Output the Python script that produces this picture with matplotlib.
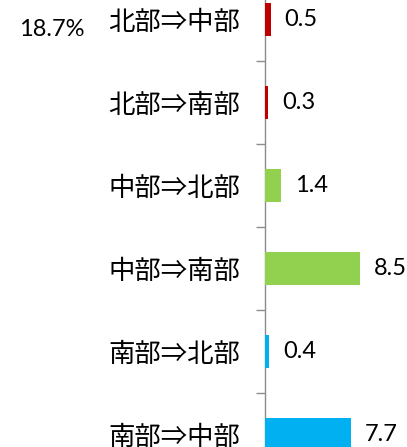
import matplotlib.pyplot as plt
import numpy as np

# data
categories = ['北部⇒中部', '北部⇒南部', '中部⇒北部', '中部⇒南部', '南部⇒北部', '南部⇒中部']
values = [0.5, 0.3, 1.4, 8.5, 0.4, 7.7]
colors = ['#C00000', '#C00000', '#92D050', '#92D050', '#00B0F0', '#00B0F0']
note = '18.7%'

fig = plt.figure(figsize=(4.07, 4.47), dpi=100)
# axes extend past the figure edges (chart is cropped in the reference)
ax = fig.add_axes([265 / 407, -29 / 447, 134.4 / 407, 498 / 447])

y = np.arange(len(categories))
ax.barh(y, values, height=0.4, color=colors, zorder=1)
ax.set_ylim(len(categories) - 0.5, -0.5)
ax.set_xlim(0, 12)

for yi, v in zip(y, values):
    ax.annotate(f'{v}', (v, yi), xytext=(10, 0), textcoords='offset points',
                va='center', ha='left', fontsize=17, family=['Lato', 'DejaVu Sans'],
                color='#000000')

ax.set_yticks(y)
ax.set_yticklabels(categories, family=['Noto Sans CJK JP', 'DejaVu Sans'], fontsize=19)
ax.tick_params(axis='y', which='major', length=0, pad=18)
ax.set_yticks(np.arange(len(categories) + 1) - 0.5, minor=True)
ax.tick_params(axis='y', which='minor', length=6.5, width=1, color='#8C8C8C', direction='out')

ax.set_xticks([])
for s in ['top', 'right', 'bottom']:
    ax.spines[s].set_visible(False)
ax.spines['left'].set_color('#8C8C8C')
ax.spines['left'].set_linewidth(1)
ax.spines['left'].set_zorder(0)
ax.patch.set_alpha(0)

fig.text(52 / 407, 1 - 29 / 447, note, ha='center', va='center', fontsize=17,
         family=['Lato', 'DejaVu Sans'])

plt.savefig('out.png', dpi=100)
